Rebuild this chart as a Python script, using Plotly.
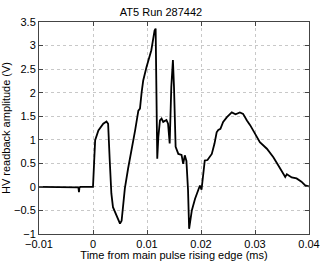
import plotly.graph_objects as go

# time (ms) and HV readback amplitude (V)
time_ms = [
    -0.01, -0.0030, -0.0027, -0.0026, -0.0025, -0.0023, 0.0, 0.0002, 0.0004,
    0.0010, 0.0019, 0.0025, 0.0028, 0.0031, 0.0034, 0.0037, 0.0044, 0.0050,
    0.0053, 0.0056, 0.0059, 0.0065, 0.0072, 0.0078, 0.0084, 0.0087, 0.0090,
    0.0093, 0.0099, 0.0108, 0.0114, 0.0116, 0.0119, 0.0121, 0.0124, 0.0127,
    0.0130, 0.0133, 0.0136, 0.0139, 0.0142, 0.0145, 0.0148, 0.0150, 0.0153,
    0.0158, 0.0164, 0.0167, 0.0170, 0.0173, 0.0176, 0.0178, 0.0183, 0.0189,
    0.0195, 0.0198, 0.0201, 0.0204, 0.0207, 0.0212, 0.0220, 0.0225, 0.0229,
    0.0232, 0.0236, 0.0241, 0.0248, 0.0257, 0.0264, 0.0272, 0.0278, 0.0285,
    0.0291, 0.0300, 0.0309, 0.0322, 0.0334, 0.0343, 0.0350, 0.0356, 0.0359,
    0.0368, 0.0377, 0.0383, 0.0386, 0.0393, 0.0400,
]
amplitude_v = [
    0.0, 0.0, -0.01, -0.11, -0.01, 0.0, 0.0, 0.5, 0.99,
    1.2, 1.34, 1.39, 1.34, 0.56, -0.14, -0.43, -0.64, -0.78,
    -0.72, -0.43, -0.03, 0.39, 0.81, 1.2, 1.62, 1.66, 2.0,
    2.26, 2.54, 2.9, 3.32, 3.36, 0.6, 1.06, 1.41, 1.45,
    1.38, 1.41, 1.42, 1.34, 0.92, 2.12, 2.69, 2.12, 0.85,
    0.70, 0.68, 0.49, 0.67, 0.55, -0.07, -0.89, -0.5, -0.25,
    -0.05, 0.03, -0.06, 0.25, 0.56, 0.57, 0.7, 0.92, 1.16,
    1.21, 1.23, 1.38, 1.48, 1.58, 1.54, 1.58, 1.55, 1.41,
    1.31, 1.13, 0.95, 0.81, 0.63, 0.46, 0.31, 0.21, 0.27,
    0.2, 0.18, 0.14, 0.11, 0.03, 0.01,
]

x_ticks = [-0.01, 0, 0.01, 0.02, 0.03, 0.04]
x_labels = ["\u22120.01", "0", "0.01", "0.02", "0.03", "0.04"]
y_ticks = [-1, -0.5, 0, 0.5, 1, 1.5, 2, 2.5, 3, 3.5]
y_labels = ["\u22121", "\u22120.5", "0", "0.5", "1", "1.5", "2", "2.5", "3", "3.5"]

fig = go.Figure(go.Scatter(
    x=time_ms, y=amplitude_v,
    mode='lines',
    line=dict(color='black', width=1.8),
    hoverinfo='skip'
))

axis_style = dict(
    showline=True, linecolor='#444444', linewidth=1, mirror='ticks',
    ticks='inside', ticklen=4, tickcolor='#444444',
    showgrid=True, gridcolor='#c8c8c8', griddash='dot', gridwidth=1,
    zeroline=False, automargin=False,
    tickfont=dict(size=11, color='black'),
)

fig.update_xaxes(
    range=[-0.01, 0.04], tickvals=x_ticks, ticktext=x_labels,
    ticklabelstandoff=0,
    title=dict(text='Time from main pulse rising edge (ms)', standoff=0,
               font=dict(size=11, color='black')),
    **axis_style
)
fig.update_yaxes(
    range=[-1, 3.5], tickvals=y_ticks, ticktext=y_labels,
    title=dict(text='HV readback amplitude (V)', standoff=2,
               font=dict(size=11, color='black')),
    **axis_style
)

fig.update_layout(
    width=322, height=261,
    margin=dict(l=39, r=13, t=22, b=27),
    paper_bgcolor='white', plot_bgcolor='white',
    font=dict(family='Liberation Sans, Arial, sans-serif', color='black'),
    title=dict(text='AT5 Run 287442', x=0.5, xanchor='center',
               y=0.955, yanchor='middle', font=dict(size=11, color='black')),
    showlegend=False,
)

# drop the browser's default page margin so the figure sits at the window's corner
fig.write_html("out.html", config={'displayModeBar': False},
               post_script="document.body.style.margin='0';")
